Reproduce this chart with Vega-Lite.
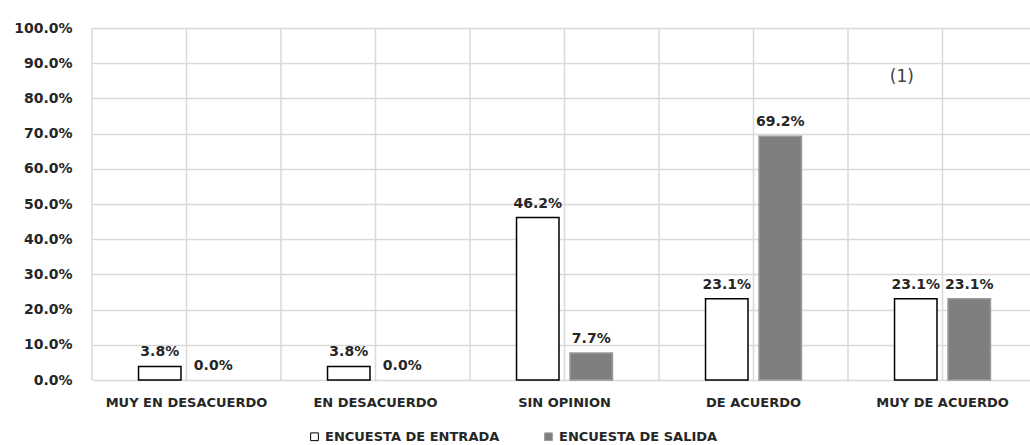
{
  "$schema": "https://vega.github.io/schema/vega-lite/v6.json",
  "width": 938,
  "height": 352,
  "autosize": {"type": "none"},
  "padding": {"left": 92, "top": 28, "right": 0, "bottom": 65},
  "background": "white",
  "config": {
    "view": {"stroke": null},
    "font": "DejaVu Sans",
    "axis": {
      "labelOverlap": false,
      "labelBound": false,
      "domain": false,
      "ticks": false,
      "title": null,
      "labelFont": "DejaVu Sans",
      "labelFontWeight": "bold",
      "labelColor": "#262626",
      "labelLimit": 0
    },
    "axisX": {
      "labelAngle": 0,
      "grid": false,
      "labelPadding": 16,
      "labelFontSize": 13
    },
    "axisY": {
      "grid": true,
      "labelPadding": 20,
      "labelFontSize": 14,
      "values": [0, 0.02, 0.04, 0.06, 0.08, 0.1, 0.12, 0.14, 0.16, 0.18, 0.2, 0.22, 0.24, 0.26, 0.28, 0.3, 0.32, 0.34, 0.36, 0.38, 0.4, 0.42, 0.44, 0.46, 0.48, 0.5, 0.52, 0.54, 0.56, 0.58, 0.6, 0.62, 0.64, 0.66, 0.68, 0.7, 0.72, 0.74, 0.76, 0.78, 0.8, 0.82, 0.84, 0.86, 0.88, 0.9, 0.92, 0.94, 0.96, 0.98, 1],
      "labelExpr": "round(datum.value * 100) % 10 === 0 ? format(datum.value, '.1%') : ''",
      "gridColor": {"condition": {"test": "round(datum.value * 100) % 10 === 0", "value": "#d9d9d9"}, "value": "#e9e9e9"},
      "gridWidth": {"condition": {"test": "round(datum.value * 100) % 10 === 0", "value": 1.5}, "value": 1}
    }
  },
  "datasets": {
    "cats": [
      {"categoria": "MUY EN DESACUERDO"},
      {"categoria": "EN DESACUERDO"},
      {"categoria": "SIN OPINION"},
      {"categoria": "DE ACUERDO"},
      {"categoria": "MUY DE ACUERDO"}
    ],
    "bars": [
      {"categoria": "MUY EN DESACUERDO", "encuesta": "ENCUESTA DE ENTRADA", "valor": 0.0384},
      {"categoria": "MUY EN DESACUERDO", "encuesta": "ENCUESTA DE SALIDA", "valor": 0.0},
      {"categoria": "EN DESACUERDO", "encuesta": "ENCUESTA DE ENTRADA", "valor": 0.0384},
      {"categoria": "EN DESACUERDO", "encuesta": "ENCUESTA DE SALIDA", "valor": 0.0},
      {"categoria": "SIN OPINION", "encuesta": "ENCUESTA DE ENTRADA", "valor": 0.4615},
      {"categoria": "SIN OPINION", "encuesta": "ENCUESTA DE SALIDA", "valor": 0.0769},
      {"categoria": "DE ACUERDO", "encuesta": "ENCUESTA DE ENTRADA", "valor": 0.2308},
      {"categoria": "DE ACUERDO", "encuesta": "ENCUESTA DE SALIDA", "valor": 0.6923},
      {"categoria": "MUY DE ACUERDO", "encuesta": "ENCUESTA DE ENTRADA", "valor": 0.2308},
      {"categoria": "MUY DE ACUERDO", "encuesta": "ENCUESTA DE SALIDA", "valor": 0.2308}
    ],
    "nota": [
      {"categoria": "MUY DE ACUERDO", "valor": 0.86, "texto": "(1)"}
    ]
  },
  "layer": [
    {
      "data": {"name": "bars"},
      "mark": {"type": "bar", "opacity": 0},
      "encoding": {
        "x": {
          "field": "categoria",
          "type": "nominal",
          "scale": {
            "domain": ["MUY EN DESACUERDO", "EN DESACUERDO", "SIN OPINION", "DE ACUERDO", "MUY DE ACUERDO"],
            "range": [0, 945],
            "paddingInner": 0,
            "paddingOuter": 0
          }
        },
        "y": {
          "field": "valor",
          "type": "quantitative",
          "scale": {"domain": [0, 1], "nice": false}
        }
      }
    },
    {
      "data": {"name": "cats"},
      "mark": {"type": "rule", "stroke": "#d9d9d9", "strokeWidth": 1.5},
      "encoding": {
        "x": {"field": "categoria", "type": "nominal"}
      }
    },
    {
      "data": {"name": "cats"},
      "mark": {"type": "rule", "stroke": "#d9d9d9", "strokeWidth": 1.5},
      "encoding": {
        "x": {"field": "categoria", "type": "nominal", "bandPosition": 0}
      }
    },
    {
      "data": {"name": "bars"},
      "mark": {"type": "bar", "strokeWidth": 1.5},
      "encoding": {
        "x": {"field": "categoria", "type": "nominal"},
        "xOffset": {
          "field": "encuesta",
          "type": "nominal",
          "scale": {"paddingInner": 0.206, "paddingOuter": 0.87}
        },
        "y": {"field": "valor", "type": "quantitative"},
        "strokeOpacity": {"condition": {"test": "datum.valor > 0", "value": 1}, "value": 0},
        "fill": {
          "field": "encuesta",
          "type": "nominal",
          "scale": {"domain": ["ENCUESTA DE ENTRADA", "ENCUESTA DE SALIDA"], "range": ["#ffffff", "#7f7f7f"]},
          "legend": {
            "title": null,
            "orient": "none",
            "direction": "horizontal",
            "legendX": 216,
            "legendY": 402,
            "symbolType": "square",
            "symbolSize": 60,
            "symbolStrokeWidth": 1,
            "labelFont": "DejaVu Sans",
            "labelFontWeight": "bold",
            "labelFontSize": 13,
            "labelColor": "#262626",
            "labelOffset": 4,
            "columnPadding": 42,
            "labelLimit": 0
          }
        },
        "stroke": {
          "field": "encuesta",
          "type": "nominal",
          "scale": {"domain": ["ENCUESTA DE ENTRADA", "ENCUESTA DE SALIDA"], "range": ["#000000", "#9a9a9a"]},
          "legend": {
            "title": null,
            "orient": "none",
            "direction": "horizontal",
            "legendX": 216,
            "legendY": 402,
            "symbolType": "square",
            "symbolSize": 60,
            "symbolStrokeWidth": 1,
            "labelFont": "DejaVu Sans",
            "labelFontWeight": "bold",
            "labelFontSize": 13,
            "labelColor": "#262626",
            "labelOffset": 4,
            "columnPadding": 42,
            "labelLimit": 0
          }
        }
      }
    },
    {
      "data": {"name": "bars"},
      "mark": {"type": "text", "baseline": "bottom", "dy": -7, "font": "DejaVu Sans", "fontWeight": "bold", "fontSize": 14, "fill": "#262626"},
      "encoding": {
        "x": {"field": "categoria", "type": "nominal"},
        "xOffset": {"field": "encuesta", "type": "nominal"},
        "y": {"field": "valor", "type": "quantitative"},
        "text": {"field": "valor", "type": "quantitative", "format": ".1%"}
      }
    },
    {
      "data": {"name": "nota"},
      "mark": {"type": "text", "baseline": "middle", "font": "DejaVu Sans", "fontSize": 17, "fill": "#404040"},
      "encoding": {
        "x": {"field": "categoria", "type": "nominal", "bandPosition": 0.285},
        "y": {"field": "valor", "type": "quantitative"},
        "text": {"field": "texto"}
      }
    }
  ]
}
